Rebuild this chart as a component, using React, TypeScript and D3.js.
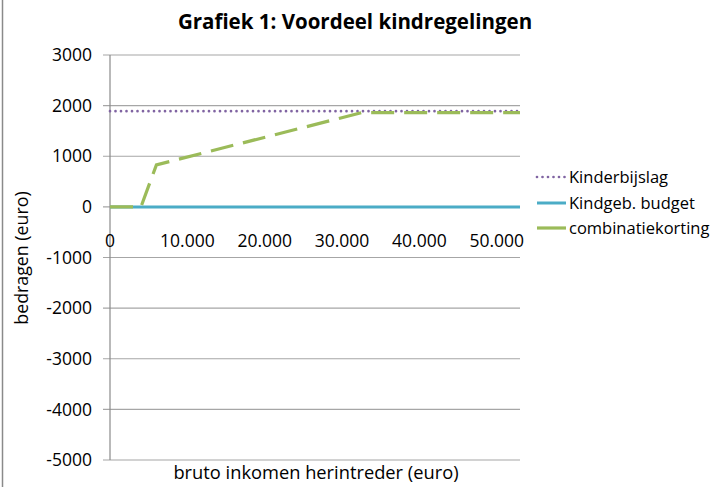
import React from "react";
import * as d3 from "d3";

const title = "Grafiek 1: Voordeel kindregelingen";
const yTicks = [3000, 2000, 1000, 0, -1000, -2000, -3000, -4000, -5000];
const xTicks = [0, 10000, 20000, 30000, 40000, 50000];
const xDomain = [0, 53000];

const kinderbijslagX = [0, 53000];
const kinderbijslagY = [1890, 1890];
const budgetX = [0, 53000];
const budgetY = [0, 0];
const combiX = [0, 4000, 6000, 32500, 53000];
const combiY = [0, 0, 830, 1860, 1860];

const seriesNames = ["Kinderbijslag", "Kindgeb. budget", "combinatiekorting"];

const FONT = "'Open Sans', sans-serif";

export default function App() {
  const W = 716, H = 487;
  const x = d3.scaleLinear().domain(xDomain).range([110, 520]);
  const y = d3.scaleLinear().domain([3000, -5000]).range([55, 460]);
  const line = d3.line<[number, number]>().x(d => x(d[0])).y(d => y(d[1]));
  const zip = (a: number[], b: number[]) => a.map((v, i) => [v, b[i]] as [number, number]);
  const fmt = (v: number) => d3.format(",")(v).replace(/,/g, ".");

  const styles = [
    { stroke: "#8064A2", width: 2.7, dash: "0,5.5", cap: "round" as const },
    { stroke: "#4BACC6", width: 3, dash: undefined, cap: "butt" as const },
    { stroke: "#9BBB59", width: 3.2, dash: "23,10", cap: "butt" as const },
  ];
  const data = [zip(kinderbijslagX, kinderbijslagY), zip(budgetX, budgetY), zip(combiX, combiY)];
  const legendY = [177, 203, 228];

  return (
    <svg width={W} height={H} style={{ position: "absolute", left: 0, top: 0, background: "#fff" }}>
      <rect x={0} y={0} width={W} height={H} fill="#fff" />
      <line x1={2.5} x2={2.5} y1={0} y2={H} stroke="#8a8a8a" strokeWidth={1.5} />
      <text x={355} y={29} textAnchor="middle" fontFamily={FONT} fontWeight="bold" fontSize={20.5} fill="#000">{title}</text>
      {yTicks.map(t => (
        <g key={t}>
          <line x1={103} x2={x(xDomain[1])} y1={y(t)} y2={y(t)} stroke="#a6a6a6" strokeWidth={1.2} />
          <text x={92} y={y(t)} dy="0.35em" textAnchor="end" fontFamily={FONT} fontSize={17.5} fill="#000">{t}</text>
        </g>
      ))}
      <line x1={110} x2={110} y1={y(3000)} y2={y(-5000)} stroke="#8a8a8a" strokeWidth={1.2} />
      {xTicks.map(t => (
        <text key={t} x={x(t)} y={241} dy="0.35em" textAnchor="middle" fontFamily={FONT} fontSize={17.5} fill="#000">{fmt(t)}</text>
      ))}
      {data.map((d, i) => (
        <path key={i} d={line(d) || ""} fill="none" stroke={styles[i].stroke} strokeWidth={styles[i].width}
          strokeDasharray={styles[i].dash} strokeLinecap={styles[i].cap} />
      ))}
      {seriesNames.map((n, i) => (
        <g key={n}>
          <line x1={537} x2={566} y1={legendY[i]} y2={legendY[i]} stroke={styles[i].stroke} strokeWidth={styles[i].width}
            strokeDasharray={i === 0 ? "0,5.5" : undefined} strokeLinecap={styles[i].cap} />
          <text x={569} y={legendY[i]} dy="0.35em" fontFamily={FONT} fontSize={16.5} fill="#000">{n}</text>
        </g>
      ))}
      <text x={316} y={473} dy="0.35em" textAnchor="middle" fontFamily={FONT} fontSize={18.3} fill="#000">bruto inkomen herintreder (euro)</text>
      <text transform="translate(22,258) rotate(-90)" dy="0.35em" textAnchor="middle" fontFamily={FONT} fontSize={17.8} fill="#000">bedragen (euro)</text>
    </svg>
  );
}
